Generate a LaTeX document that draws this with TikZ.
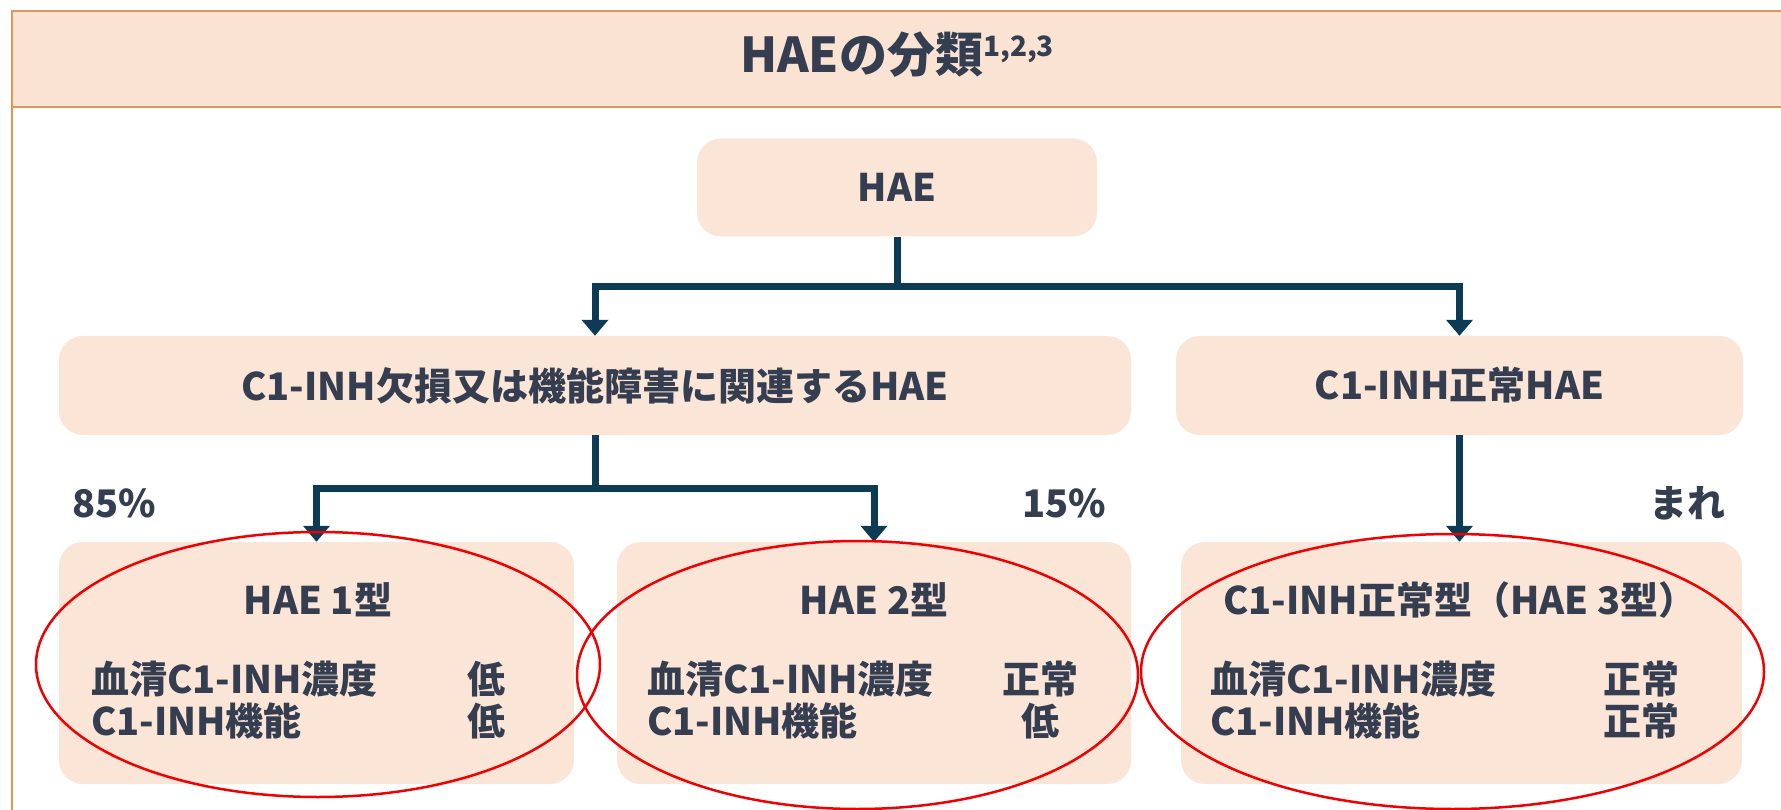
\documentclass[tikz,border=0pt]{standalone}
\usepackage{fontspec}
\setmainfont{Noto Sans CJK JP}
\usetikzlibrary{arrows.meta}
\definecolor{peach}{RGB}{251,229,214}
\definecolor{hdr}{RGB}{250,227,211}
\definecolor{frameor}{RGB}{222,150,95}
\definecolor{navy}{RGB}{13,59,85}
\definecolor{txt}{RGB}{52,62,80}
\definecolor{ellred}{RGB}{240,0,0}
\begin{document}
\begin{tikzpicture}[x=1pt,y=-1pt,
  box/.style={fill=peach, rounded corners=24pt, draw=none, inner sep=0pt},
  lbl/.style={text=txt, font=\bfseries\fontsize{38}{44}\selectfont, inner sep=0pt},
  conn/.style={draw=navy, line width=7pt},
  arr/.style={conn, -{Triangle[width=26pt,length=16pt]}},
  ring/.style={draw=ellred, line width=2.5pt}]
\useasboundingbox (0,0) rectangle (1781,810);
\fill[white] (0,0) rectangle (1781,810);
% header band and frame
\fill[hdr] (12,11) rectangle (1781,107);
\draw[frameor, line width=2.5pt] (1781,11) -- (12,11) -- (12,810);
\draw[frameor, line width=2.5pt] (12,107) -- (1781,107);
\node[text=txt, inner sep=0pt, anchor=base] (title) at (897,73)
  {\bfseries\fontsize{48}{54}\selectfont HAEの分類\raisebox{16pt}{\fontsize{28}{30}\selectfont 1,2,3}};
% boxes
\node[box, lbl, minimum width=400pt, minimum height=98pt] (hae) at (897,187.5) {HAE};
\node[box, lbl, minimum width=1072pt, minimum height=99pt] (mid1) at (595,385.5) {C1-INH欠損又は機能障害に関連するHAE};
\node[box, lbl, minimum width=567pt, minimum height=99pt] (mid2) at (1459.5,385.5) {C1-INH正常HAE};
\node[box, minimum width=515pt, minimum height=242pt] (t1) at (316.5,663) {};
\node[box, minimum width=514pt, minimum height=242pt] (t2) at (874,663) {};
\node[box, minimum width=561pt, minimum height=242pt] (t3) at (1461.5,663) {};
% texts in bottom boxes
\node[lbl] (t1h) at (318,600) {HAE 1型};
\node[lbl, anchor=west] (t1a) at (91,679) {血清C1-INH濃度};
\node[lbl, anchor=west] (t1b) at (91,721) {C1-INH機能};
\node[lbl] (t1av) at (486,679) {低};
\node[lbl] (t1bv) at (486,721) {低};
\node[lbl] (t2h) at (874,600) {HAE 2型};
\node[lbl, anchor=west] (t2a) at (647,679) {血清C1-INH濃度};
\node[lbl, anchor=west] (t2b) at (647,721) {C1-INH機能};
\node[lbl] (t2av) at (1040,679) {正常};
\node[lbl] (t2bv) at (1040,721) {低};
\node[lbl] (t3h) at (1460,600) {C1-INH正常型（HAE 3型）};
\node[lbl, anchor=west] (t3a) at (1210,679) {血清C1-INH濃度};
\node[lbl, anchor=west] (t3b) at (1210,721) {C1-INH機能};
\node[lbl] (t3av) at (1641,679) {正常};
\node[lbl] (t3bv) at (1641,721) {正常};
% percentage labels
\node[lbl] (p85) at (114,503) {85\%};
\node[lbl] (p15) at (1064,503) {15\%};
\node[lbl] (rare) at (1687,503) {まれ};
% connectors
\coordinate (j1) at (897,287);
\draw[conn] (hae.south) -- (j1);
\draw[arr] (j1) -| (mid1.north);
\draw[arr] (j1) -| (mid2.north);
\coordinate (j2) at (595,488);
\draw[conn] (mid1.south) -- (j2);
\draw[arr] (j2) -| (t1.north);
\draw[arr] (j2) -| (t2.north);
\draw[arr] (mid2.south) -- (mid2.south |- t3.north);
% red ellipses
\draw[ring] (318,664.5) ellipse [x radius=282pt, y radius=132.5pt];
\draw[ring] (857.5,675) ellipse [x radius=280.5pt, y radius=134pt];
\draw[ring] (1452.5,671.5) ellipse [x radius=311.5pt, y radius=137.5pt];
\end{tikzpicture}
\end{document}
